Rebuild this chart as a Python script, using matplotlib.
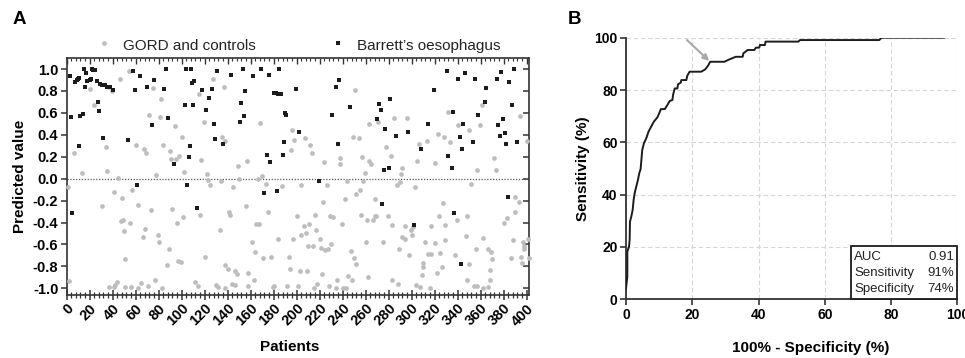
import matplotlib
matplotlib.use("Agg")
import matplotlib.pyplot as plt
from matplotlib.patches import Rectangle
from matplotlib.ticker import MultipleLocator, FormatStrFormatter

plt.rcParams["font.family"] = ["Liberation Sans", "DejaVu Sans"]
plt.rcParams["axes.unicode_minus"] = False

# ---- panel A: predicted value per patient ----
gord_patient = [
    6, 13, 1, 2, 20, 24, 34, 35, 37, 39, 46, 54, 45, 41, 48, 31, 49, 47, 55, 50,
    51, 57, 62, 68, 66, 73, 60, 67, 69, 72, 75, 37, 41, 42, 44, 51, 56, 62, 65, 71,
    77,
    82, 81, 94, 100, 84, 90, 91, 95, 98, 102, 78, 117, 115, 127, 137, 119, 135, 138, 149,
    157, 122, 123, 125, 134, 150, 145, 156, 92, 101, 96, 116, 141, 142, 133, 79, 80, 89,
    120, 97, 99, 87, 138, 140, 146, 148, 158, 83, 112, 114, 130, 132, 138, 144, 146, 158,
    168, 196, 198, 207, 212, 195, 213, 224, 238, 238, 166, 170, 173, 187, 204, 226, 223,
    175, 200, 216, 229, 232, 165, 167, 211, 206, 217, 208, 204, 197, 184, 220, 230, 161,
    210, 214, 221, 225, 227, 164, 171, 178, 193, 194, 203, 209, 222, 235, 163, 179, 180,
    192, 201, 215, 218, 228, 234,
    251, 263, 271, 285, 296, 249, 254, 278, 282, 306, 313, 257, 263, 265, 305, 320, 292,
    259, 291, 244, 258, 290, 287, 303, 255, 252, 242, 268, 239, 256, 261, 266, 268, 269,
    279, 283, 294, 299, 301, 317, 292, 294, 300, 260, 275, 312, 320, 289, 298, 314, 317,
    247, 250, 252, 310, 310, 309, 245, 248, 262, 283, 288, 304, 307, 316, 240, 243,
    361, 332, 394, 340, 359, 350, 323, 328, 333, 400, 372, 357, 373, 352, 390, 393, 327,
    390, 324, 339, 348, 329, 383, 380, 347, 362, 329, 388, 397, 398, 398, 401, 356, 366,
    369, 370, 325, 338, 386, 395, 402, 396, 350, 326, 322, 368, 368, 348, 354, 357, 362,
    366,
]
gord_value = [
    0.23, 0.05, -0.08, -0.93, 0.82, 0.67, 0.29, 0.07, 0.84, 0.80, 0.91, 0.98, 0.01, -0.12,
    -0.18, -0.25, -0.38, -0.39, -0.40, -0.48, -0.73, -0.10, -0.24, -0.46, -0.53, -0.29,
    0.31, 0.27, 0.23, 0.58, 0.83, -0.99, -0.99, -0.97, -0.94, -0.99, -0.99, -1.00, -0.95,
    -0.98, -0.92,
    0.73, 0.56, 0.48, 0.38, 0.31, 0.25, 0.18, 0.18, 0.21, 0.06, 0.03, 0.17, 0.77, 0.91,
    0.84, 0.52, 0.38, 0.34, 0.12, 0.16, 0.04, -0.01, -0.06, -0.02, 0.00, -0.08, -0.25,
    -0.28, -0.35, -0.40, -0.33, -0.30, -0.33, -0.47, -0.51, -0.58, -0.64, -0.71, -0.75,
    -0.76, -0.79, -0.79, -0.82, -0.84, -0.87, -0.86, -1.00, -0.94, -0.98, -0.97, -0.99,
    -1.00, -0.96, -0.97, -0.98,
    0.51, 0.44, 0.35, 0.37, 0.31, 0.26, 0.23, 0.15, 0.19, 0.13, 0.00, 0.02, -0.05, -0.07,
    -0.06, -0.06, -0.21, -0.30, -0.34, -0.33, -0.34, -0.35, -0.41, -0.41, -0.41, -0.43,
    -0.47, -0.50, -0.51, -0.55, -0.55, -0.55, -0.60, -0.58, -0.61, -0.61, -0.63, -0.65,
    -0.64, -0.67, -0.72, -0.71, -0.71, -0.82, -0.84, -0.84, -0.87, -0.92, -0.92, -0.99,
    -0.98, -0.98, -0.98, -1.00, -0.96, -0.98, -1.00,
    0.81, 0.50, 0.52, 0.55, 0.55, 0.38, 0.37, 0.29, 0.21, 0.32, 0.34, 0.20, 0.16, 0.13,
    0.16, 0.14, 0.10, 0.05, 0.04, -0.02, -0.02, -0.03, -0.06, -0.08, -0.10, -0.14, -0.19,
    -0.19, -0.41, -0.33, -0.38, -0.38, -0.34, -0.34, -0.34, -0.42, -0.43, -0.47, -0.44,
    -0.43, -0.53, -0.55, -0.51, -0.58, -0.58, -0.58, -0.59, -0.64, -0.70, -0.69, -0.69,
    -0.66, -0.72, -0.78, -0.77, -0.81, -0.88, -0.89, -0.92, -0.90, -0.92, -0.96, -0.97,
    -0.99, -1.00, -1.00, -1.00,
    0.67, 0.61, 0.57, 0.49, 0.49, 0.44, 0.41, 0.38, 0.33, 0.34, 0.19, 0.08, 0.08, -0.05,
    -0.17, -0.21, -0.22, -0.30, -0.34, -0.38, -0.34, -0.42, -0.36, -0.40, -0.52, -0.54,
    -0.56, -0.56, -0.58, -0.61, -0.64, -0.55, -0.64, -0.64, -0.67, -0.73, -0.68, -0.70,
    -0.72, -0.71, -0.72, -0.77, -0.78, -0.81, -0.86, -0.83, -0.92, -0.92, -0.98, -0.98,
    -1.00, -0.99,
]

barrett_patient = [
    3, 4, 5, 7, 9, 10, 11, 11, 12, 14, 15, 16, 17, 18, 20, 21, 22, 23, 25, 26, 27, 28,
    29, 31, 32, 33, 35, 38, 40, 53, 58, 59, 61, 64, 70, 74, 76,
    85, 86, 88, 93, 103, 104, 105, 106, 107, 108, 109, 110, 111, 113, 118, 121, 124, 126,
    128, 129, 131, 136, 143, 151, 152, 153, 154, 155,
    162, 169, 172, 174, 176, 177, 180, 182, 183, 184, 185, 186, 188, 189, 190, 191, 199,
    202, 219, 231, 234, 236, 237,
    246, 270, 272, 273, 274, 276, 277, 280, 281, 286, 297, 302, 308, 314, 319,
    331, 332, 335, 336, 337, 340, 342, 343, 344, 345, 346, 353, 355, 358, 364, 365, 374,
    375, 377, 378, 379, 381, 382, 384, 385, 387, 389, 392,
]
barrett_value = [
    0.94, 0.56, -0.31, 0.88, 0.90, 0.91, 0.92, 0.30, 0.57, 0.59, 1.00, 0.84, 0.96, 0.89,
    0.90, 0.91, 1.00, 0.99, 0.99, 0.89, 0.70, 0.62, 0.86, 0.85, 0.37, 0.85, 0.84, 0.84,
    0.81, 0.35, 0.98, 0.81, -0.06, 0.94, 0.84, 0.49, 0.90,
    0.82, 1.00, 0.55, 0.13, 0.67, 1.00, -0.06, 0.20, 0.30, 1.00, 0.87, 0.67, 0.89, -0.27,
    0.81, 0.63, 0.74, 0.82, 0.50, 0.36, 0.98, 0.32, 0.95, 0.52, 0.69, 1.00, 0.57, 0.80,
    0.94, 1.00, -0.13, 0.22, 0.95, 0.15, 0.78, 0.78, -0.11, 0.77, 1.00, 0.77, 0.22, 0.33,
    0.60, 0.58, 0.82, 0.43, -0.02, 0.58, 0.84, 0.32, 0.90,
    0.65, 0.54, 0.68, 0.63, -0.23, 0.08, 0.45, 0.10, 0.73, 0.39, 0.43, -0.42, 0.27, 0.50,
    0.81,
    0.98, 0.21, 0.10, 0.61, -0.31, 0.91, 0.38, -0.78, 0.27, 0.50, 0.96, 0.33, 0.91, 0.58,
    0.70, 0.83, 0.91, 0.49, 0.39, 0.97, 0.54, 0.42, 0.32, -0.17, 0.88, 0.67, 1.00, 0.33,
]

patient_ticks = list(range(0, 401, 20))
value_ticks = [-1.0, -0.8, -0.6, -0.4, -0.2, 0.0, 0.2, 0.4, 0.6, 0.8, 1.0]

# ---- panel B: ROC curve ----
fpr = [0, 0.4, 0.4, 0.9, 1.1, 1.2, 1.6, 2.0, 2.3, 2.6, 3.1, 3.6, 4.0, 4.4, 4.6, 4.9,
       5.4, 6.1, 6.8, 7.6, 8.4, 9.5, 10.2, 10.5, 11.7, 12.5, 13.2, 14.0, 14.2, 14.7,
       15.5, 15.7, 16.5, 16.7, 18.2, 18.5, 19.2, 22.7, 23.9, 24.7, 25.4, 29.7, 31.0,
       33.1, 35.2, 35.4, 36.7, 38.7, 39.2, 40.2, 40.4, 41.9, 42.1, 52.0, 52.5, 76.4,
       77.1, 95.9]
sensitivity = [4.2, 8.7, 18.2, 20.1, 22.7, 29.7, 31.6, 34.1, 38.0, 40.5, 43.1, 45.6,
               48.2, 49.7, 52.6, 57.1, 59.6, 61.5, 64.1, 66.0, 67.9, 69.6, 71.7, 72.7,
               72.7, 74.3, 75.8, 76.2, 78.1, 80.6, 80.6, 82.2, 82.8, 83.8, 83.8, 85.5,
               87.0, 87.0, 87.9, 89.2, 90.8, 90.8, 91.6, 92.7, 92.7, 94.0, 95.3, 95.3,
               96.2, 96.2, 97.2, 97.2, 98.5, 98.5, 99.1, 99.1, 100, 100]
cutoff_from = (18.4, 99.1)
cutoff_to = (25.1, 91.1)
stat_names = ["AUC", "Sensitivity", "Specificity"]
stat_values = ["0.91", "91%", "74%"]
roc_ticks = [0, 20, 40, 60, 80, 100]

GREY = "#bdbdbd"
DARK = "#1c1c1c"
AXC = "#333333"

fig = plt.figure(figsize=(9.65, 3.58), dpi=100)

# ---------------- A ----------------
ax = fig.add_axes([0.0691, 0.176, 0.4786, 0.6606])
ax.plot(gord_patient, gord_value, "o", color=GREY, ms=3.4, mew=0, clip_on=False, zorder=3)
ax.plot(barrett_patient, barrett_value, "s", color=DARK, ms=3.2, mew=0, clip_on=False, zorder=4)
ax.axhline(0, color="#555555", lw=0.9, ls=(0, (1, 1.3)), zorder=2)
ax.set_xlim(0, 401.6)
ax.set_ylim(-1.061, 1.096)

for side in ["left", "right", "top", "bottom"]:
    ax.spines[side].set_linewidth(1.2)
    ax.spines[side].set_color(AXC)

ax.set_xticks(patient_ticks)
ax.xaxis.set_minor_locator(MultipleLocator(4))
ax.set_yticks(value_ticks)
ax.yaxis.set_major_formatter(FormatStrFormatter("%.1f"))
ax.tick_params(axis="x", which="major", direction="inout", length=7, width=1.1, color=AXC, pad=1)
ax.tick_params(axis="x", which="minor", direction="inout", length=4, width=0.9, color=AXC)
ax.tick_params(axis="y", which="major", direction="out", length=4, width=1.1, color=AXC, pad=2)
for lab in ax.get_xticklabels():
    lab.set_rotation(45)
    lab.set_ha("right")
    lab.set_va("top")
    lab.set_rotation_mode("anchor")
    lab.set_fontweight("bold")
    lab.set_fontsize(10.5)
for lab in ax.get_yticklabels():
    lab.set_fontweight("bold")
    lab.set_fontsize(10.5)

# inward ticks on top and right spines
top = ax.secondary_xaxis("top")
top.set_xticks(patient_ticks)
top.xaxis.set_minor_locator(MultipleLocator(4))
top.tick_params(which="major", direction="in", length=4, width=1, color=AXC, labeltop=False)
top.tick_params(which="minor", direction="in", length=2.5, width=0.8, color=AXC)
top.spines["top"].set_visible(False)
right = ax.secondary_yaxis("right")
right.set_yticks(value_ticks)
right.tick_params(direction="in", length=4, width=1.1, color=AXC, labelright=False)
right.spines["right"].set_visible(False)

ax.set_xlabel("Patients", fontsize=11, fontweight="bold", va="center")
ax.xaxis.set_label_coords(0.4835, -0.219)
ax.set_ylabel("Predicted value", fontsize=11, fontweight="bold", va="center")
ax.yaxis.set_label_coords(-0.101, 0.5)

# legend row above panel A
ax.plot([0.0808], [1.066], "o", color=GREY, ms=3.4, mew=0, transform=ax.transAxes, clip_on=False)
ax.text(0.1219, 1.053, "GORD and controls", transform=ax.transAxes, fontsize=11,
        va="center", ha="left", color="#222222")
ax.plot([0.5874], [1.066], "s", color=DARK, ms=3.2, mew=0, transform=ax.transAxes, clip_on=False)
ax.text(0.6286, 1.053, "Barrett\u2019s oesophagus", transform=ax.transAxes, fontsize=11,
        va="center", ha="left", color="#222222")

fig.text(13 / 965, 1 - 19 / 358, "A", fontsize=13.5, fontweight="bold", va="center", ha="left")

# ---------------- B ----------------
bx = fig.add_axes([0.6487, 0.164, 0.3435, 0.7307])
bx.set_xlim(0, 100)
bx.set_ylim(0, 100)
bx.set_xticks(roc_ticks)
bx.set_yticks(roc_ticks)
bx.grid(True, color="#d6d6d6", lw=0.8, ls=(0, (4, 2.5)))
bx.set_axisbelow(True)
bx.spines["top"].set_visible(False)
bx.spines["right"].set_visible(False)
for side in ["left", "bottom"]:
    bx.spines[side].set_linewidth(1.3)
    bx.spines[side].set_color(AXC)
bx.tick_params(direction="out", length=4, width=1.2, color=AXC, labelsize=10, pad=2)
for lab in bx.get_xticklabels() + bx.get_yticklabels():
    lab.set_fontweight("bold")

bx.plot(fpr, sensitivity, color=DARK, lw=1.4, zorder=3)
bx.annotate("", xy=cutoff_to, xytext=cutoff_from,
            arrowprops=dict(arrowstyle="-|>", color="#a8a8a8", lw=1.5,
                            mutation_scale=9, shrinkA=0, shrinkB=0))

bx.add_patch(Rectangle((67.8, 0), 32.2, 20.4, fill=True, facecolor="white",
                       edgecolor=DARK, lw=1.3, zorder=5, clip_on=False))
row_y = [16.1, 9.9, 3.9]
for name, val, y in zip(stat_names, stat_values, row_y):
    bx.text(68.9, y, name, fontsize=9.5, va="center", ha="left", zorder=6, color="#222222")
    bx.text(99.0, y, val, fontsize=9.5, va="center", ha="right", zorder=6, color="#222222")

bx.set_xlabel("100% - Specificity (%)", fontsize=11, fontweight="bold", va="center")
bx.xaxis.set_label_coords(0.558, -0.186)
bx.set_ylabel("Sensitivity (%)", fontsize=11, fontweight="bold", va="center")
bx.yaxis.set_label_coords(-0.130, 0.5)

fig.text(568 / 965, 1 - 19 / 358, "B", fontsize=13.5, fontweight="bold", va="center", ha="left")

fig.savefig("out.png", dpi=100)
